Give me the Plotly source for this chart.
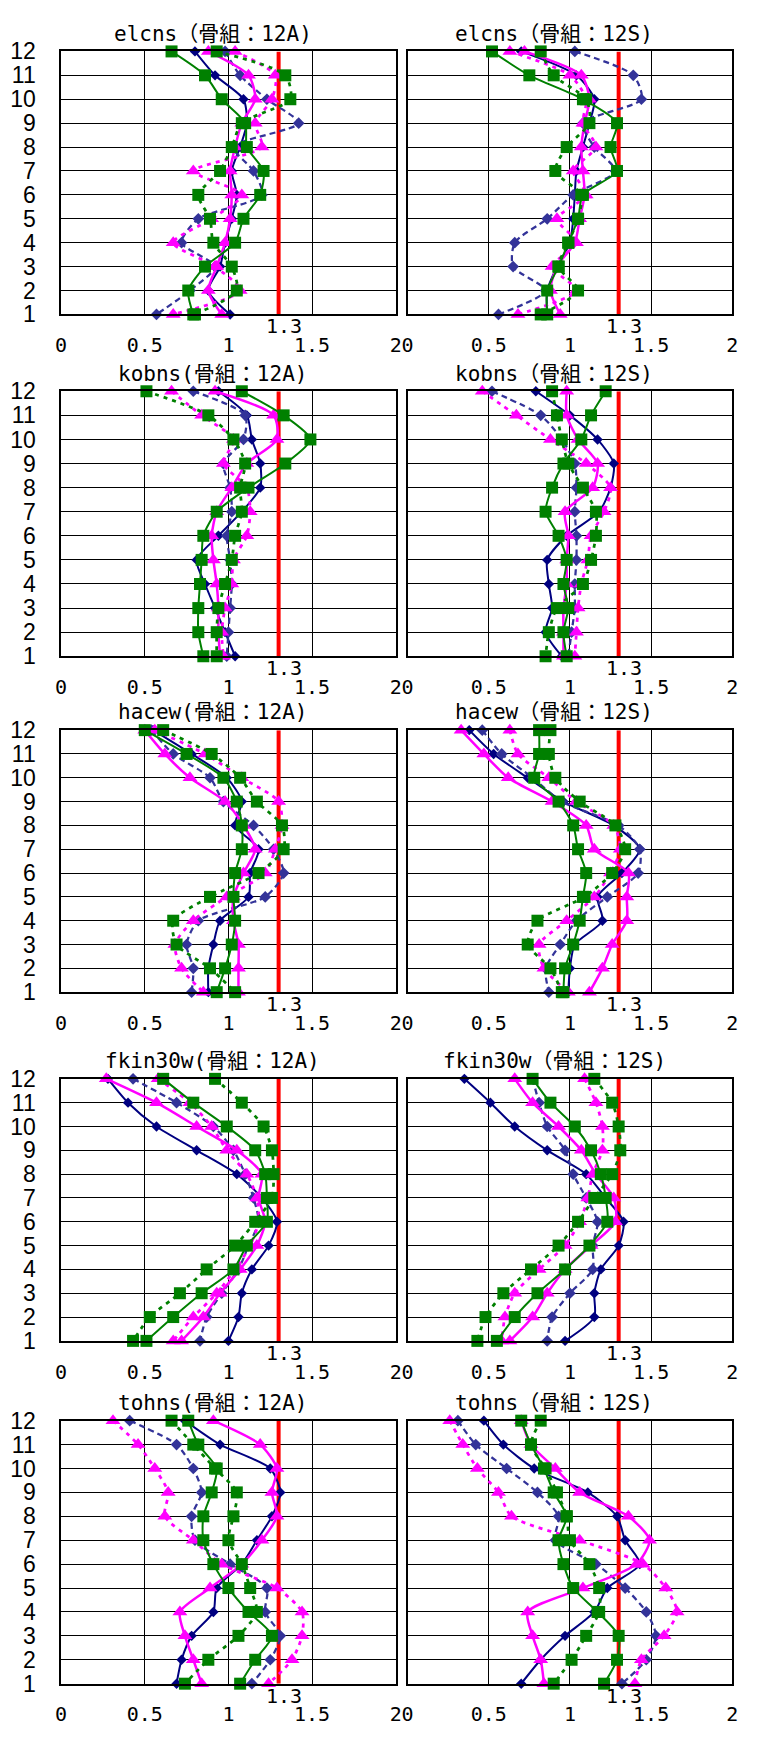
import plotly.graph_objects as go

# ---------------- data ----------------
FLOORS = [12, 11, 10, 9, 8, 7, 6, 5, 4, 3, 2, 1]
X_TICKS = [0, 0.5, 1, 1.5, 2]
X_TICK_TEXT = ["0", "0.5", "1", "1.5", "2"]
Y_TICKS = [1, 2, 3, 4, 5, 6, 7, 8, 9, 10, 11, 12]
REF_VALUE = 1.3
REF_LABEL = "1.3"

TITLES = [
    "elcns（骨組：12A)", "elcns（骨組：12S)",
    "kobns(骨組：12A)", "kobns（骨組：12S)",
    "hacew(骨組：12A)", "hacew（骨組：12S)",
    "fkin30w(骨組：12A)", "fkin30w（骨組：12S)",
    "tohns(骨組：12A)", "tohns（骨組：12S)",
]

# values listed for floors 12 -> 1
elcns_12A_s1 = [0.80, 0.92, 1.09, 1.11, 1.07, 1.02, 1.05, 1.02, 0.98, 0.95, 0.88, 1.01]
elcns_12A_s2 = [0.98, 1.07, 1.23, 1.42, 1.03, 1.15, 1.20, 0.82, 0.72, 0.92, 0.77, 0.57]
elcns_12A_s3 = [0.88, 1.12, 1.16, 1.08, 1.04, 1.01, 1.02, 1.01, 0.98, 0.93, 0.88, 0.96]
elcns_12A_s4 = [1.04, 1.28, 1.26, 1.16, 1.20, 0.79, 1.08, 0.90, 0.67, 0.92, 1.07, 0.67]
elcns_12A_s5 = [0.66, 0.86, 0.96, 1.10, 1.11, 1.21, 1.19, 1.09, 1.04, 0.86, 0.76, 0.79]
elcns_12A_s6 = [0.93, 1.34, 1.37, 1.08, 1.02, 0.95, 0.82, 0.89, 0.91, 1.02, 1.05, 0.80]

elcns_12S_s1 = [0.70, 1.04, 1.15, 1.12, 1.08, 1.04, 1.03, 1.02, 1.00, 0.92, 0.86, 0.86]
elcns_12S_s2 = [1.03, 1.39, 1.44, 1.08, 1.15, 1.28, 1.02, 0.86, 0.66, 0.65, 0.85, 0.56]
elcns_12S_s3 = [0.72, 1.07, 1.12, 1.09, 1.07, 1.08, 1.09, 1.06, 1.03, 0.92, 0.88, 0.94]
elcns_12S_s4 = [0.63, 1.00, 1.10, 1.08, 1.16, 1.02, 1.10, 0.92, 1.04, 0.89, 1.04, 0.68]
elcns_12S_s5 = [0.52, 0.75, 1.08, 1.29, 1.25, 1.29, 1.08, 1.05, 0.99, 0.93, 0.86, 0.86]
elcns_12S_s6 = [0.82, 0.90, 1.10, 1.12, 0.98, 0.91, 1.07, 1.05, 0.99, 0.93, 1.05, 0.82]

kobns_12A_s1 = [0.94, 1.11, 1.14, 1.19, 1.19, 1.08, 0.94, 0.81, 0.86, 0.92, 0.98, 1.04]
kobns_12A_s2 = [0.79, 1.10, 1.09, 0.97, 1.01, 1.02, 0.99, 1.01, 1.02, 1.01, 1.00, 0.99]
kobns_12A_s3 = [0.92, 1.27, 1.29, 1.11, 1.02, 0.93, 0.90, 0.91, 0.93, 0.94, 0.94, 0.95]
kobns_12A_s4 = [0.66, 0.84, 1.03, 0.97, 1.11, 1.13, 1.11, 1.03, 1.02, 0.98, 0.96, 0.97]
kobns_12A_s5 = [1.08, 1.33, 1.49, 1.34, 1.12, 0.93, 0.85, 0.84, 0.83, 0.82, 0.82, 0.85]
kobns_12A_s6 = [0.51, 0.88, 1.03, 1.10, 1.07, 1.08, 1.04, 1.02, 0.98, 0.94, 0.93, 0.93]

kobns_12S_s1 = [0.79, 1.00, 1.17, 1.27, 1.25, 1.18, 0.98, 0.86, 0.87, 0.89, 0.85, 0.95]
kobns_12S_s2 = [0.52, 0.82, 0.95, 1.03, 1.04, 1.03, 1.04, 1.04, 1.03, 1.03, 1.01, 0.99]
kobns_12S_s3 = [0.98, 0.98, 1.05, 1.17, 1.14, 0.97, 0.99, 0.98, 0.98, 0.96, 0.96, 0.96]
kobns_12S_s4 = [0.46, 0.67, 0.88, 1.10, 1.25, 1.21, 1.13, 1.11, 1.07, 1.05, 1.04, 1.03]
kobns_12S_s5 = [1.22, 1.13, 1.07, 0.96, 0.89, 0.85, 0.93, 0.98, 0.96, 0.99, 0.96, 0.98]
kobns_12S_s6 = [0.89, 0.92, 0.95, 0.99, 1.08, 1.16, 1.16, 1.13, 1.08, 0.92, 0.87, 0.85]

hacew_12A_s1 = [0.55, 0.78, 0.99, 1.08, 1.04, 1.18, 1.13, 1.12, 0.95, 0.91, 0.88, 0.88]
hacew_12A_s2 = [0.54, 0.67, 0.89, 0.97, 1.15, 1.27, 1.33, 1.22, 0.82, 0.75, 0.79, 0.78]
hacew_12A_s3 = [0.50, 0.62, 0.77, 0.98, 1.09, 1.16, 1.09, 1.03, 1.03, 1.06, 1.06, 1.06]
hacew_12A_s4 = [0.56, 0.86, 1.08, 1.30, 1.32, 1.28, 1.22, 0.99, 0.79, 0.68, 0.72, 0.85]
hacew_12A_s5 = [0.50, 0.75, 0.97, 1.05, 1.08, 1.08, 1.04, 1.03, 1.04, 1.02, 0.98, 0.93]
hacew_12A_s6 = [0.61, 0.90, 1.07, 1.17, 1.32, 1.33, 1.18, 0.89, 0.67, 0.69, 0.89, 1.04]

hacew_12S_s1 = [0.38, 0.53, 0.74, 0.96, 1.27, 1.43, 1.32, 1.17, 1.20, 1.03, 1.00, 0.99]
hacew_12S_s2 = [0.46, 0.58, 0.77, 0.95, 1.30, 1.43, 1.42, 1.23, 1.04, 0.94, 0.85, 0.87]
hacew_12S_s3 = [0.33, 0.47, 0.62, 0.89, 1.10, 1.15, 1.36, 1.35, 1.35, 1.26, 1.20, 1.12]
hacew_12S_s4 = [0.63, 0.68, 0.87, 1.04, 1.27, 1.31, 1.25, 1.15, 0.98, 0.81, 0.84, 0.99]
hacew_12S_s5 = [0.81, 0.81, 0.78, 0.93, 1.02, 1.05, 1.10, 1.08, 1.06, 1.02, 0.97, 0.96]
hacew_12S_s6 = [0.88, 0.87, 0.91, 1.06, 1.28, 1.34, 1.26, 1.09, 0.80, 0.74, 0.88, 0.95]

fkin30w_12A_s1 = [0.28, 0.40, 0.57, 0.81, 1.05, 1.20, 1.29, 1.24, 1.14, 1.08, 1.06, 1.00]
fkin30w_12A_s2 = [0.43, 0.69, 0.91, 1.03, 1.10, 1.15, 1.18, 1.12, 1.06, 0.96, 0.87, 0.83]
fkin30w_12A_s3 = [0.27, 0.57, 0.81, 1.05, 1.20, 1.18, 1.22, 1.17, 1.07, 0.95, 0.85, 0.72]
fkin30w_12A_s4 = [0.58, 0.77, 0.90, 0.99, 1.11, 1.17, 1.18, 1.13, 1.04, 0.93, 0.79, 0.67]
fkin30w_12A_s5 = [0.61, 0.79, 0.99, 1.16, 1.22, 1.23, 1.23, 1.11, 1.03, 0.84, 0.67, 0.51]
fkin30w_12A_s6 = [0.92, 1.08, 1.21, 1.26, 1.27, 1.26, 1.16, 1.04, 0.87, 0.71, 0.53, 0.43]

fkin30w_12S_s1 = [0.35, 0.51, 0.66, 0.86, 1.10, 1.22, 1.33, 1.30, 1.19, 1.15, 1.15, 0.97]
fkin30w_12S_s2 = [0.77, 0.81, 0.86, 0.97, 1.02, 1.10, 1.17, 1.14, 1.14, 1.00, 0.89, 0.86]
fkin30w_12S_s3 = [0.66, 0.77, 0.93, 1.07, 1.16, 1.27, 1.28, 1.13, 0.97, 0.86, 0.77, 0.63]
fkin30w_12S_s4 = [1.09, 1.16, 1.20, 1.20, 1.14, 1.11, 1.06, 0.97, 0.81, 0.66, 0.60, 0.58]
fkin30w_12S_s5 = [0.77, 0.88, 1.03, 1.13, 1.19, 1.22, 1.23, 1.12, 0.97, 0.80, 0.66, 0.55]
fkin30w_12S_s6 = [1.15, 1.26, 1.30, 1.31, 1.26, 1.15, 1.05, 0.93, 0.76, 0.59, 0.48, 0.43]

tohns_12A_s1 = [0.74, 0.95, 1.25, 1.31, 1.26, 1.17, 1.08, 0.93, 0.91, 0.78, 0.72, 0.69]
tohns_12A_s2 = [0.41, 0.69, 0.79, 0.84, 0.78, 0.80, 1.01, 1.23, 1.22, 1.31, 1.25, 1.14]
tohns_12A_s3 = [0.91, 1.19, 1.29, 1.26, 1.29, 1.20, 1.08, 0.89, 0.71, 0.74, 0.79, 0.84]
tohns_12A_s4 = [0.31, 0.46, 0.56, 0.64, 0.62, 0.79, 0.96, 1.29, 1.44, 1.44, 1.38, 1.24]
tohns_12A_s5 = [0.76, 0.82, 0.93, 0.90, 0.85, 0.85, 0.91, 1.00, 1.12, 1.26, 1.16, 1.07]
tohns_12A_s6 = [0.66, 0.79, 0.92, 1.05, 1.03, 1.00, 1.08, 1.13, 1.17, 1.06, 0.88, 0.74]

tohns_12S_s1 = [0.47, 0.59, 0.78, 1.11, 1.29, 1.34, 1.43, 1.23, 1.15, 0.97, 0.82, 0.70]
tohns_12S_s2 = [0.31, 0.42, 0.61, 0.80, 0.93, 0.91, 1.16, 1.34, 1.47, 1.53, 1.47, 1.32]
tohns_12S_s3 = [0.70, 0.76, 0.91, 1.06, 1.36, 1.49, 1.41, 1.08, 0.74, 0.77, 0.82, 0.84]
tohns_12S_s4 = [0.26, 0.34, 0.43, 0.56, 0.64, 1.06, 1.45, 1.59, 1.66, 1.58, 1.44, 1.40]
tohns_12S_s5 = [0.70, 0.76, 0.84, 0.90, 0.98, 0.93, 0.96, 1.02, 1.17, 1.30, 1.29, 1.21]
tohns_12S_s6 = [0.82, 0.76, 0.85, 0.92, 0.98, 1.00, 1.12, 1.18, 1.18, 1.10, 1.01, 0.90]

PANEL_SERIES = [
    [elcns_12A_s1, elcns_12A_s2, elcns_12A_s3, elcns_12A_s4, elcns_12A_s5, elcns_12A_s6],
    [elcns_12S_s1, elcns_12S_s2, elcns_12S_s3, elcns_12S_s4, elcns_12S_s5, elcns_12S_s6],
    [kobns_12A_s1, kobns_12A_s2, kobns_12A_s3, kobns_12A_s4, kobns_12A_s5, kobns_12A_s6],
    [kobns_12S_s1, kobns_12S_s2, kobns_12S_s3, kobns_12S_s4, kobns_12S_s5, kobns_12S_s6],
    [hacew_12A_s1, hacew_12A_s2, hacew_12A_s3, hacew_12A_s4, hacew_12A_s5, hacew_12A_s6],
    [hacew_12S_s1, hacew_12S_s2, hacew_12S_s3, hacew_12S_s4, hacew_12S_s5, hacew_12S_s6],
    [fkin30w_12A_s1, fkin30w_12A_s2, fkin30w_12A_s3, fkin30w_12A_s4, fkin30w_12A_s5, fkin30w_12A_s6],
    [fkin30w_12S_s1, fkin30w_12S_s2, fkin30w_12S_s3, fkin30w_12S_s4, fkin30w_12S_s5, fkin30w_12S_s6],
    [tohns_12A_s1, tohns_12A_s2, tohns_12A_s3, tohns_12A_s4, tohns_12A_s5, tohns_12A_s6],
    [tohns_12S_s1, tohns_12S_s2, tohns_12S_s3, tohns_12S_s4, tohns_12S_s5, tohns_12S_s6],
]

# ---------------- styles / layout ----------------
W, H = 759, 1742
COLS = [(56, 396), (408, 738)]
ROWS = [(39, 306), (384, 653), (728, 994), (1082, 1348), (1429, 1696)]
FONT = "DejaVu Sans Mono, Noto Sans CJK JP, sans-serif"
YFONT = "Liberation Sans, Arial, sans-serif"

STYLES = [
    dict(color="#000080", dash="solid", symbol="diamond", size=8, width=2),
    dict(color="#333399", dash="6px,4px", symbol="diamond", size=9, width=2.25),
    dict(color="#FF00FF", dash="solid", symbol="triangle-up", size=13, width=2.5),
    dict(color="#FF00FF", dash="4px,5px", symbol="triangle-up", size=13, width=2.75),
    dict(color="#008000", dash="solid", symbol="square", size=12, width=2),
    dict(color="#008000", dash="4px,5px", symbol="square", size=12, width=2.75),
]

fig = go.Figure()
annotations = []
layout_axes = {}

for i, series in enumerate(PANEL_SERIES):
    r, c = divmod(i, 2)
    k = i + 1
    xs = "x" if k == 1 else f"x{k}"
    ys = "y" if k == 1 else f"y{k}"
    x0, x1 = COLS[c]
    yt, yb = ROWS[r]

    # reference line
    fig.add_trace(go.Scatter(
        x=[REF_VALUE, REF_VALUE], y=[Y_TICKS[0], Y_TICKS[-1]], mode="lines",
        line=dict(color="#FF0000", width=4), xaxis=xs, yaxis=ys,
        showlegend=False, hoverinfo="skip"))

    for vals, st in zip(series, STYLES):
        fig.add_trace(go.Scatter(
            x=vals, y=FLOORS, mode="lines+markers",
            line=dict(color=st["color"], width=st["width"], dash=st["dash"],
                      shape="spline", smoothing=0.7),
            marker=dict(symbol=st["symbol"], size=st["size"], color=st["color"],
                        line=dict(width=0)),
            xaxis=xs, yaxis=ys, cliponaxis=False, showlegend=False))

    xa = dict(domain=[x0 / W, x1 / W], anchor=ys, range=[0, 2],
              tickvals=X_TICKS, ticktext=X_TICK_TEXT, ticks="",
              showgrid=True, gridcolor="#000000", gridwidth=1,
              zeroline=False, showline=True, linecolor="#000000", linewidth=1.5,
              mirror=True, ticklabelstandoff=12,
              tickfont=dict(family=FONT, size=20, color="#000000"))
    ya = dict(domain=[1 - yb / H, 1 - yt / H], anchor=xs, range=[1, 12],
              tickvals=Y_TICKS, ticks="", showgrid=True, gridcolor="#000000",
              gridwidth=1, zeroline=False, showline=True, linecolor="#000000",
              linewidth=1.5, mirror=True, showticklabels=(c == 0),
              ticklabelstandoff=19,
              tickfont=dict(family=YFONT, size=23, color="#000000"))
    layout_axes["xaxis" if k == 1 else f"xaxis{k}"] = xa
    layout_axes["yaxis" if k == 1 else f"yaxis{k}"] = ya

    annotations.append(dict(
        text=TITLES[i], x=((x0 + x1) / 2 - 16) / W, y=1 - (yt - 18) / H,
        xref="paper", yref="paper", xanchor="center", yanchor="middle",
        showarrow=False, font=dict(family=FONT, size=21, color="#000000")))
    annotations.append(dict(
        text=REF_LABEL, x=REF_VALUE, y=Y_TICKS[0], xref=xs, yref=ys,
        xanchor="center", yanchor="middle", xshift=5, yshift=-12,
        showarrow=False, font=dict(family=FONT, size=20, color="#000000")))

fig.update_layout(
    width=W, height=H, margin=dict(l=0, r=0, t=0, b=0),
    paper_bgcolor="#FFFFFF", plot_bgcolor="#FFFFFF",
    showlegend=False, annotations=annotations, **layout_axes)

fig.write_html("out.html")
